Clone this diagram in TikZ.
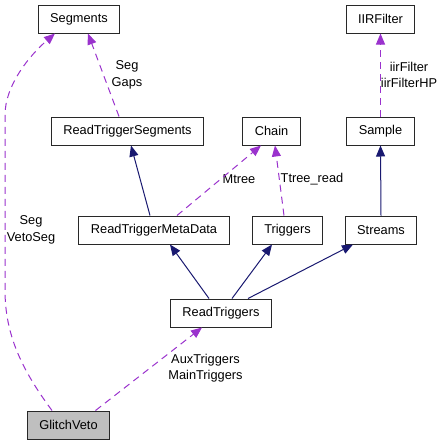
\documentclass[tikz,border=0pt]{standalone}
\usepackage{fontspec}
\setmainfont{Liberation Sans}
\usepackage{tikz}
\usetikzlibrary{positioning,arrows.meta}

\definecolor{inherit}{RGB}{25,25,112}
\definecolor{member}{RGB}{154,50,205}
\definecolor{boxline}{RGB}{40,40,40}
\definecolor{current}{RGB}{191,191,191}

\tikzset{
  cls/.style = {shape=rectangle, draw=boxline, line width=1pt, minimum height=28pt,
                inner xsep=12pt, inner ysep=0pt, font=\fontsize{12.8}{14}\selectfont},
  lbl/.style = {align=center, inner sep=0pt, font=\fontsize{12.8}{16.5}\selectfont},
  isa/.style = {draw=inherit, line width=1pt, -{Triangle[length=11pt,width=9pt]}},
  uses/.style = {draw=member, line width=1pt, dash pattern=on 7pt off 5pt,
                 -{Triangle[length=11pt,width=9pt]}}
}

\begin{document}
\begin{tikzpicture}[x=1pt, y=-1pt]
\useasboundingbox (0,0) rectangle (445,445);
\node[cls] (Segments) at (79,19) {Segments};
\node[cls] (IIRFilter) at (380.5,19) {IIRFilter};
\node[cls] (ReadTriggerSegments) at (127.5,131) {ReadTriggerSegments};
\node[cls] (Chain) at (271.5,131) {Chain};
\node[cls] (Sample) at (380.5,131) {Sample};
\node[cls] (ReadTriggerMetaData) at (154,230) {ReadTriggerMetaData};
\node[cls] (Triggers) at (287.5,230) {Triggers};
\node[cls] (Streams) at (381,230) {Streams};
\node[cls] (ReadTriggers) at (221,313) {ReadTriggers};
\node[cls, fill=current] (GlitchVeto) at (68.5,425) {GlitchVeto};

\node[lbl] (SegVetoSeg) at (31,230) {Seg\\VetoSeg};
\node[lbl] (SegGaps) at (127,75) {Seg\\Gaps};
\node[lbl] (Mtree) at (239,179) {Mtree};
\node[lbl] (TtreeRead) at (312,179) {Ttree\_read};
\node[lbl] (iirFilter) at (409,75) {iirFilter\\iirFilterHP};
\node[lbl] (AuxMain) at (205.5,368) {AuxTriggers\\MainTriggers};

\draw[isa] ([xshift=-4pt]ReadTriggerMetaData.north) -- ([xshift=3.5pt]ReadTriggerSegments.south);
\draw[isa] (Streams.north) -- (Sample.south);
\draw[isa] ([xshift=-12pt]ReadTriggers.north) -- ([xshift=16pt]ReadTriggerMetaData.south);
\draw[isa] ([xshift=11pt]ReadTriggers.north) -- ([xshift=-15.5pt]Triggers.south);
\draw[isa] ([xshift=27pt]ReadTriggers.north) -- ([xshift=-28pt]Streams.south);

\draw[uses] ([xshift=-8.5pt]ReadTriggerSegments.north) -- ([xshift=9pt]Segments.south);
\draw[uses] ([xshift=23pt]ReadTriggerMetaData.north) -- ([xshift=-10.5pt]Chain.south);
\draw[uses] ([xshift=-3.5pt]Triggers.north) -- ([xshift=3.5pt]Chain.south);
\draw[uses] (Sample.north) -- (IIRFilter.south);
\draw[uses] ([xshift=27pt]GlitchVeto.north) -- ([xshift=-19pt]ReadTriggers.south);
\draw[uses] ([xshift=-16.5pt]GlitchVeto.north) .. controls (22,370) and (5,335) .. (5,290)
  -- (5,115) .. controls (5,85) and (30,55) .. ([xshift=-24pt]Segments.south);
\end{tikzpicture}
\end{document}
